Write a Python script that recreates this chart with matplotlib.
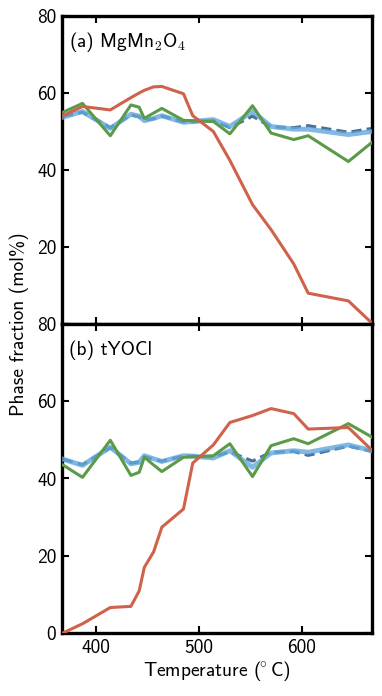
import matplotlib
matplotlib.use('Agg')
import matplotlib.pyplot as plt

plt.rcParams['font.family'] = ['cmss10', 'DejaVu Sans']
plt.rcParams['mathtext.fontset'] = 'cm'
plt.rcParams['axes.unicode_minus'] = False

# ── Data ──
temps = [368, 387, 414, 434, 442, 447, 456, 464, 485, 494, 514, 530, 552, 570, 592, 606, 645, 668]

# panel (a) MgMn2O4
a_red   = [54.1, 56.5, 55.6, 58.8, 60.0, 60.7, 61.6, 61.7, 59.8, 54.1, 50.0, 42.5, 31.0, 24.5, 15.6, 8.0, 6.0, 0.2]
a_green = [55.0, 57.3, 48.9, 56.9, 56.3, 53.4, 54.8, 56.0, 52.9, 52.8, 52.6, 49.4, 56.7, 49.6, 47.9, 48.9, 42.2, 47.2]
a_blue  = [53.7, 55.2, 50.8, 54.5, 54.0, 52.8, 53.4, 54.1, 52.4, 52.6, 53.1, 51.3, 55.2, 51.3, 50.6, 50.6, 49.2, 50.0]
a_dash  = [54.0, 55.0, 51.0, 54.3, 53.8, 53.0, 53.3, 54.0, 52.5, 52.5, 52.8, 51.0, 54.0, 51.2, 51.0, 51.5, 49.8, 50.8]

# panel (b) tYOCl
b_red   = [0.0, 2.4, 6.6, 6.9, 10.9, 17.0, 21.0, 27.4, 32.1, 44.0, 48.7, 54.5, 56.3, 58.1, 56.8, 52.8, 53.2, 47.3]
b_green = [43.5, 40.3, 49.9, 40.8, 41.6, 45.5, 43.5, 41.8, 45.5, 45.6, 45.9, 49.0, 40.5, 48.5, 50.3, 49.0, 54.2, 50.7]
b_blue  = [45.0, 43.4, 48.1, 43.8, 44.2, 45.9, 45.1, 44.4, 45.9, 45.8, 45.3, 47.2, 42.9, 46.6, 47.2, 46.8, 48.7, 47.2]
b_dash  = [45.0, 43.6, 48.0, 44.0, 44.3, 45.6, 45.0, 44.5, 45.8, 45.8, 45.6, 46.9, 44.5, 46.8, 47.0, 46.0, 48.4, 47.0]

RED = '#d0614a'
GREEN = '#5b9a48'
LBLUE = '#62a8dc'
DBLUE = '#4a7099'

fig = plt.figure(figsize=(3.82, 6.96), dpi=100)
ax1 = fig.add_axes([0.162, 0.5345, 0.812, 0.4425])
ax2 = fig.add_axes([0.162, 0.0905, 0.812, 0.444], sharex=ax1)

panels = [
    (ax1, a_red, a_green, a_blue, a_dash, r'(a) MgMn$_\mathsf{2}$O$_\mathsf{4}$'),
    (ax2, b_red, b_green, b_blue, b_dash, '(b) tYOCl'),
]

for ax, red, green, blue, dash, label in panels:
    ax.plot(temps, dash, color=DBLUE, lw=2.3, ls=(0, (3.2, 1.6)), zorder=2)
    ax.plot(temps, blue, color=LBLUE, lw=3.5, alpha=0.8, zorder=3)
    ax.plot(temps, green, color=GREEN, lw=2.2, zorder=4)
    ax.plot(temps, red, color=RED, lw=2.2, zorder=5)

    ax.set_xlim(367, 668)
    ax.set_ylim(0, 80)
    ax.set_xticks([400, 500, 600])
    ax.set_yticks([0, 20, 40, 60, 80])
    ax.tick_params(direction='in', top=True, right=True, length=5, width=1.5,
                   labelsize=14, pad=4)
    for s in ax.spines.values():
        s.set_linewidth(2.4)
    ax.text(0.022, 0.915, label, transform=ax.transAxes, fontsize=14,
            ha='left', va='center')

ax1.set_yticklabels(['', '20', '40', '60', '80'])
ax1.tick_params(labelbottom=False)

ax2.set_xlabel(r'Temperature ($\!^{\circ}\,$C)', fontsize=14, labelpad=2)
fig.text(0.05, 0.534, 'Phase fraction (mol%)', rotation=90, fontsize=14,
         ha='center', va='center')

fig.savefig('out.png', dpi=100)
plt.close(fig)
